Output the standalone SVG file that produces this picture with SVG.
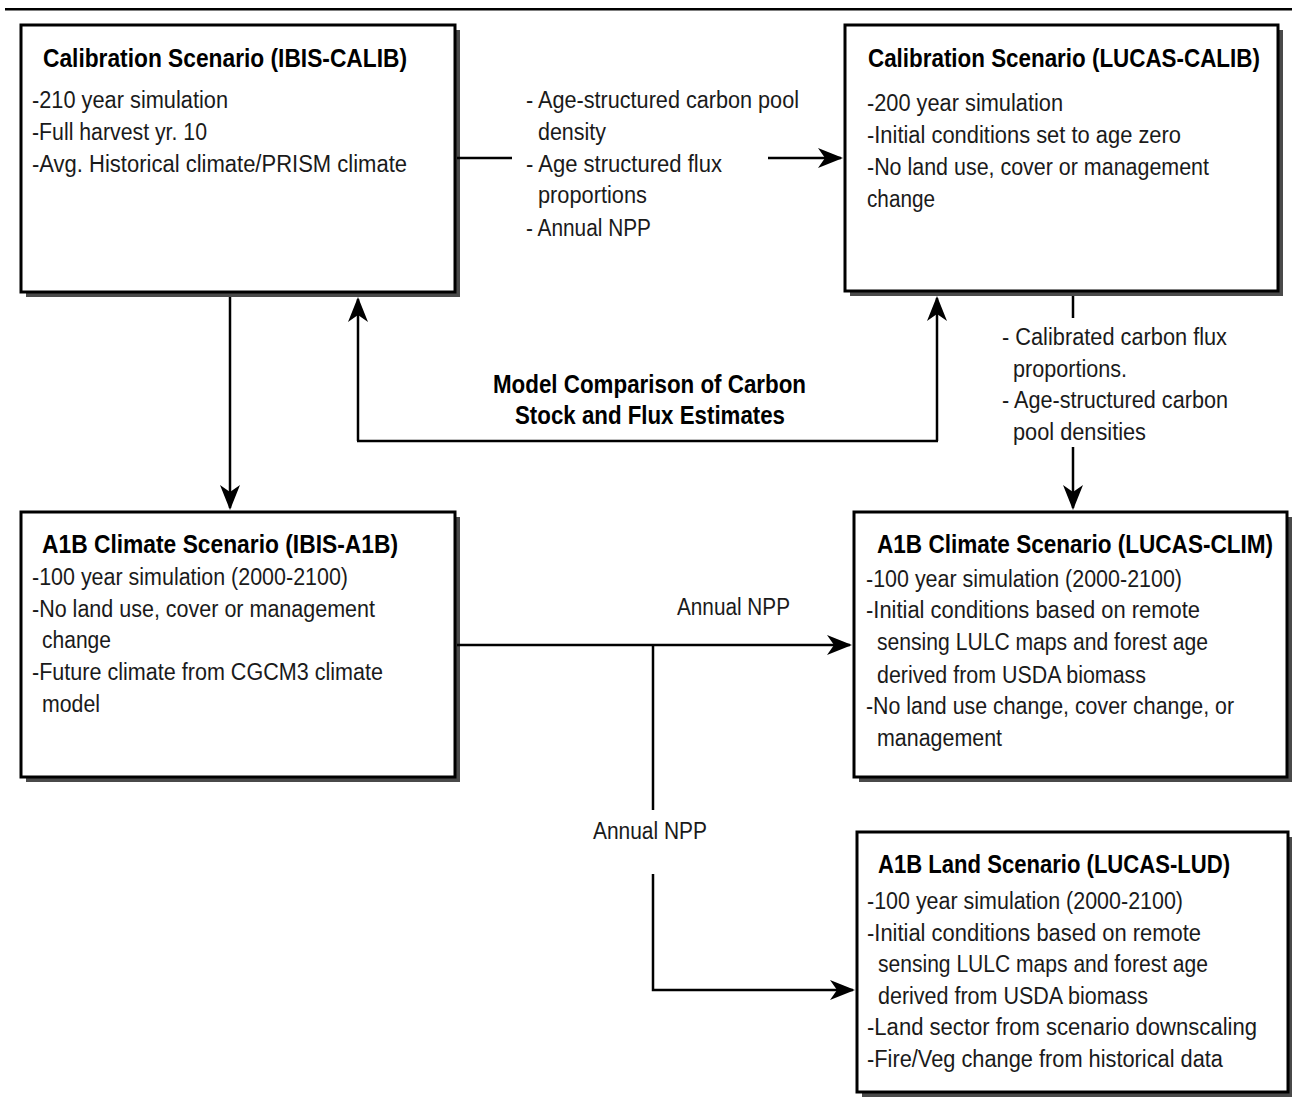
<svg xmlns="http://www.w3.org/2000/svg" width="1292" height="1099" viewBox="0 0 1292 1099">
<style>
.shadow{fill:#4a4a4a}
.box{fill:#fff;stroke:#000;stroke-width:3}
.t{font-family:"Liberation Sans",Arial,sans-serif;font-weight:bold;font-size:25px;fill:#000}
.b{font-family:"Liberation Sans",Arial,sans-serif;font-size:23.5px;fill:#1a1a1a}
.conn{stroke:#000;stroke-width:2.5;fill:none}
</style>
<defs>
<marker id="ah" markerWidth="26" markerHeight="24" refX="23" refY="12" orient="auto" markerUnits="userSpaceOnUse">
<path d="M0,2 L25,12 L0,22 L7,12 Z" fill="#000"/>
</marker>
</defs>
<rect x="5" y="8" width="1287" height="2.5" fill="#000"/>

<g id="ibis-calib">
<rect class="shadow" x="26" y="30" width="434" height="267"/>
<rect class="box" x="21" y="25" width="434" height="267"/>
<text class="t" x="43" y="67" textLength="364" lengthAdjust="spacingAndGlyphs">Calibration Scenario (IBIS-CALIB)</text>
<text class="b" x="32" y="108" textLength="196" lengthAdjust="spacingAndGlyphs">-210 year simulation</text>
<text class="b" x="32" y="140" textLength="175" lengthAdjust="spacingAndGlyphs">-Full harvest yr. 10</text>
<text class="b" x="32" y="172" textLength="375" lengthAdjust="spacingAndGlyphs">-Avg. Historical climate/PRISM climate</text>
</g>

<g id="lucas-calib">
<rect class="shadow" x="850" y="30" width="433" height="266"/>
<rect class="box" x="845" y="25" width="433" height="266"/>
<text class="t" transform="translate(868,67) scale(0.85,1)" x="0" y="0" textLength="461" lengthAdjust="spacingAndGlyphs">Calibration Scenario (LUCAS-CALIB)</text>
<text class="b" x="867" y="111" textLength="196" lengthAdjust="spacingAndGlyphs">-200 year simulation</text>
<text class="b" x="867" y="143" textLength="314" lengthAdjust="spacingAndGlyphs">-Initial conditions set to age zero</text>
<text class="b" x="867" y="175" textLength="342" lengthAdjust="spacingAndGlyphs">-No land use, cover or management</text>
<text class="b" x="867" y="207" textLength="68" lengthAdjust="spacingAndGlyphs">change</text>
</g>

<g id="ibis-a1b">
<rect class="shadow" x="26" y="517" width="434" height="265"/>
<rect class="box" x="21" y="512" width="434" height="265"/>
<text class="t" x="42" y="553" textLength="356" lengthAdjust="spacingAndGlyphs">A1B Climate Scenario (IBIS-A1B)</text>
<text class="b" x="32" y="585" textLength="316" lengthAdjust="spacingAndGlyphs">-100 year simulation (2000-2100)</text>
<text class="b" x="32" y="617" textLength="343" lengthAdjust="spacingAndGlyphs">-No land use, cover or management</text>
<text class="b" x="42" y="648" textLength="69" lengthAdjust="spacingAndGlyphs">change</text>
<text class="b" x="32" y="680" textLength="351" lengthAdjust="spacingAndGlyphs">-Future climate from CGCM3 climate</text>
<text class="b" x="42" y="712" textLength="58" lengthAdjust="spacingAndGlyphs">model</text>
</g>

<g id="lucas-clim">
<rect class="shadow" x="859" y="517" width="433" height="265"/>
<rect class="box" x="854" y="512" width="433" height="265"/>
<text class="t" transform="translate(877,553) scale(0.85,1)" x="0" y="0" textLength="466" lengthAdjust="spacingAndGlyphs">A1B Climate Scenario (LUCAS-CLIM)</text>
<text class="b" x="866" y="587" textLength="316" lengthAdjust="spacingAndGlyphs">-100 year simulation (2000-2100)</text>
<text class="b" x="866" y="618" textLength="334" lengthAdjust="spacingAndGlyphs">-Initial conditions based on remote</text>
<text class="b" x="877" y="650" textLength="331" lengthAdjust="spacingAndGlyphs">sensing LULC maps and forest age</text>
<text class="b" x="877" y="683" textLength="269" lengthAdjust="spacingAndGlyphs">derived from USDA biomass</text>
<text class="b" x="866" y="714" textLength="368" lengthAdjust="spacingAndGlyphs">-No land use change, cover change, or</text>
<text class="b" x="877" y="746" textLength="125" lengthAdjust="spacingAndGlyphs">management</text>
</g>

<g id="lucas-lud">
<rect class="shadow" x="862" y="837" width="431" height="260"/>
<rect class="box" x="857" y="832" width="431" height="260"/>
<text class="t" x="878" y="873" textLength="352" lengthAdjust="spacingAndGlyphs">A1B Land Scenario (LUCAS-LUD)</text>
<text class="b" x="867" y="909" textLength="316" lengthAdjust="spacingAndGlyphs">-100 year simulation (2000-2100)</text>
<text class="b" x="867" y="941" textLength="334" lengthAdjust="spacingAndGlyphs">-Initial conditions based on remote</text>
<text class="b" x="878" y="972" textLength="330" lengthAdjust="spacingAndGlyphs">sensing LULC maps and forest age</text>
<text class="b" x="878" y="1004" textLength="270" lengthAdjust="spacingAndGlyphs">derived from USDA biomass</text>
<text class="b" x="867" y="1035" textLength="390" lengthAdjust="spacingAndGlyphs">-Land sector from scenario downscaling</text>
<text class="b" x="867" y="1067" textLength="356" lengthAdjust="spacingAndGlyphs">-Fire/Veg change from historical data</text>
</g>

<g id="connectors">
<path class="conn" d="M457,158 L512,158"/>
<path class="conn" d="M768,158 L841,158" marker-end="url(#ah)"/>
<path class="conn" d="M230,297 L230,508" marker-end="url(#ah)"/>
<path class="conn" d="M358,441 L358,299" marker-end="url(#ah)"/>
<path class="conn" d="M937,441 L937,298" marker-end="url(#ah)"/>
<path class="conn" d="M357,441 L938,441"/>
<path class="conn" d="M1073,296 L1073,318"/>
<path class="conn" d="M1073,447 L1073,508" marker-end="url(#ah)"/>
<path class="conn" d="M457,645 L850,645" marker-end="url(#ah)"/>
<path class="conn" d="M653,645 L653,810"/>
<path class="conn" d="M653,874 L653,990 L853,990" marker-end="url(#ah)"/>
</g>

<g id="labels">
<text class="b" x="526" y="108" textLength="273" lengthAdjust="spacingAndGlyphs">- Age-structured carbon pool</text>
<text class="b" x="538" y="140" textLength="68" lengthAdjust="spacingAndGlyphs">density</text>
<text class="b" x="526" y="172" textLength="196" lengthAdjust="spacingAndGlyphs">- Age structured flux</text>
<text class="b" x="538" y="203" textLength="109" lengthAdjust="spacingAndGlyphs">proportions</text>
<text class="b" x="526" y="236" textLength="125" lengthAdjust="spacingAndGlyphs">- Annual NPP</text>
<text class="t" x="493" y="393" textLength="313" lengthAdjust="spacingAndGlyphs">Model Comparison of Carbon</text>
<text class="t" x="515" y="424" textLength="270" lengthAdjust="spacingAndGlyphs">Stock and Flux Estimates</text>
<text class="b" x="1002" y="345" textLength="225" lengthAdjust="spacingAndGlyphs">- Calibrated carbon flux</text>
<text class="b" x="1013" y="377" textLength="114" lengthAdjust="spacingAndGlyphs">proportions.</text>
<text class="b" x="1002" y="408" textLength="226" lengthAdjust="spacingAndGlyphs">- Age-structured carbon</text>
<text class="b" x="1013" y="440" textLength="133" lengthAdjust="spacingAndGlyphs">pool densities</text>
<text class="b" x="677" y="615" textLength="113" lengthAdjust="spacingAndGlyphs">Annual NPP</text>
<text class="b" x="593" y="839" textLength="114" lengthAdjust="spacingAndGlyphs">Annual NPP</text>
</g>
</svg>
